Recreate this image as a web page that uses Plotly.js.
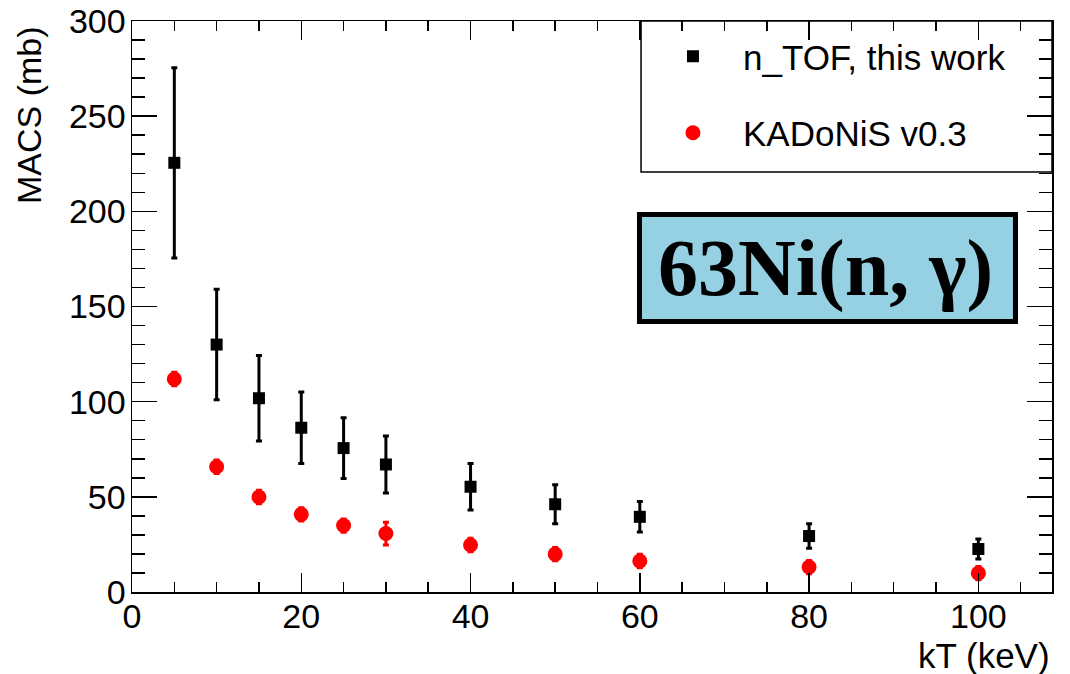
<!DOCTYPE html>
<html>
<head>
<meta charset="utf-8">
<script src="https://cdn.plot.ly/plotly-3.0.1.min.js"></script>
<style>html,body{margin:0;padding:0;background:#fff;}#chart{width:1070px;height:674px;}</style>
</head>
<body>
<div id="chart"></div>
<script>
// kT values (keV)
const kT = [5, 10, 15, 20, 25, 30, 40, 50, 60, 80, 100];
// n_TOF, this work: MACS (mb) and uncertainties
const ntofMACS = [225.5, 130, 101.8, 86.3, 75.6, 67, 55.3, 46.1, 39.5, 29.4, 22.6];
const ntofErr  = [50, 29, 22.5, 18.8, 16, 15, 12.2, 10.2, 8, 6.4, 5.2];
// KADoNiS v0.3: MACS (mb) and uncertainties
const kadMACS = [111.9, 65.8, 49.9, 40.8, 34.9, 30.7, 24.7, 19.9, 16.3, 13.1, 9.9];
const kadErr  = [3.5, 3.5, 3.5, 3.5, 3.5, 6, 3.5, 3.5, 3.5, 3.5, 3.5];
const legendNames = ["n_TOF, this work", "KADoNiS v0.3"];
const boxLabel = "63Ni(n, γ)";
const xTitle = "kT (keV)";
const yTitle = "MACS (mb)";

const sans = "Liberation Sans, Arial, Helvetica, sans-serif";

const traces = [
  {
    x: kT, y: ntofMACS, type: "scatter", mode: "markers", name: legendNames[0],
    legendgroup: "a",
    marker: {symbol: "square", size: 12, color: "#000"},
    error_y: {type: "data", array: ntofErr, visible: true, color: "#000", thickness: 3, width: 3}
  },
  {
    x: kT, y: kadMACS, type: "scatter", mode: "markers", name: legendNames[1],
    legendgroup: "b",
    marker: {symbol: "circle", size: 15, color: "#ff0000"},
    error_y: {type: "data", array: kadErr, visible: true, color: "#ff0000", thickness: 3, width: 3}
  }
];

const axisCommon = {
  showgrid: false, zeroline: false, showline: true, linecolor: "#000", linewidth: 1.5,
  mirror: "allticks", ticks: "inside", tickcolor: "#000", tickwidth: 1.5,
  tickfont: {family: sans, size: 34, color: "#000"}
};

const layout = {
  width: 1070, height: 674,
  margin: {l: 132, r: 18, t: 21, b: 82, pad: 0},
  paper_bgcolor: "#fff", plot_bgcolor: "#fff",
  showlegend: true,
  xaxis: Object.assign({}, axisCommon, {
    range: [0, 108.7], dtick: 20, tick0: 0, ticklen: 19, ticklabelstandoff: -6,
    minor: {dtick: 5, ticklen: 10, ticks: "inside", tickcolor: "#000", tickwidth: 1.5}
  }),
  yaxis: Object.assign({}, axisCommon, {
    range: [0, 300], dtick: 50, tick0: 0, ticklen: 25, ticklabelstandoff: -2,
    minor: {dtick: 10, ticklen: 13, ticks: "inside", tickcolor: "#000", tickwidth: 1.5}
  }),
  legend: {
    x: 0.5554, xanchor: "left", y: 0.9895, yanchor: "top",
    bgcolor: "rgba(0,0,0,0)", borderwidth: 0,
    font: {family: sans, size: 35, color: "#000"},
    tracegroupgap: 28, itemwidth: 90
  },
  shapes: [
    {type: "rect", xref: "paper", yref: "paper", x0: 0.5533, x1: 1, y0: 0.7356, y1: 1,
     line: {color: "#000", width: 1.5}, fillcolor: "rgba(255,255,255,0)", layer: "above"},
    {type: "rect", xref: "paper", yref: "paper", x0: 0.5516, x1: 0.9603, y0: 0.4737, y1: 0.6611,
     line: {color: "#000", width: 5}, fillcolor: "#95d1e3", layer: "above"}
  ],
  annotations: [
    {text: boxLabel, xref: "paper", yref: "paper", x: 0.7543, y: 0.5674, xanchor: "center", yanchor: "middle",
     showarrow: false, font: {family: "Liberation Serif, DejaVu Serif, serif", size: 80, color: "#000", weight: "bold"}},
    {text: xTitle, xref: "paper", yref: "paper", x: 1, y: 0, xanchor: "right", yanchor: "top", yshift: -42,
     showarrow: false, font: {family: sans, size: 35, color: "#000"}},
    {text: yTitle, xref: "paper", yref: "paper", x: 0, y: 1, xanchor: "right", yanchor: "top", xshift: -82, yshift: -3,
     textangle: -90, showarrow: false, font: {family: sans, size: 34, color: "#000"}}
  ]
};

Plotly.newPlot("chart", traces, layout, {displayModeBar: false, staticPlot: true});
</script>
</body>
</html>
